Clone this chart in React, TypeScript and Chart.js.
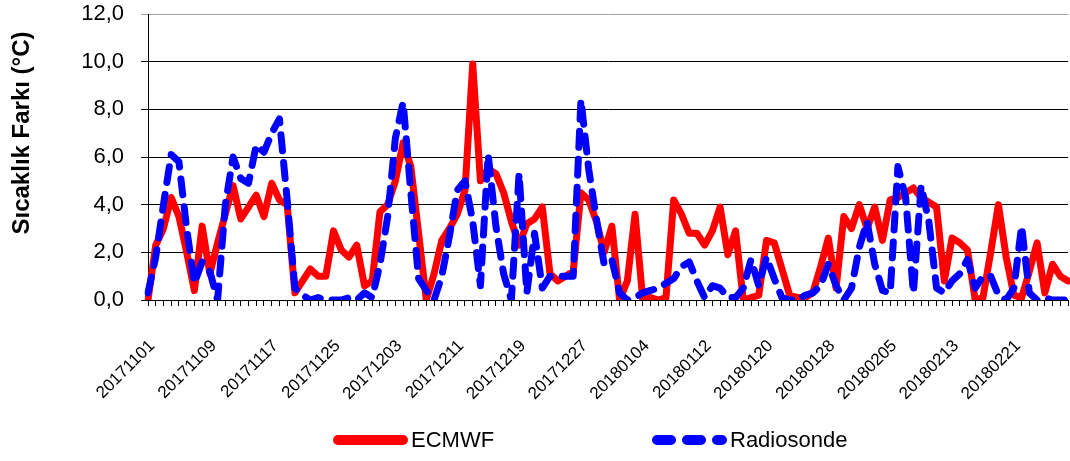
import React, { useEffect, useRef } from "react";
import { Chart, registerables } from "chart.js";

Chart.register(...registerables);

const categories: string[] = [
  "20171101","20171102","20171103","20171104","20171105","20171106","20171107","20171108","20171109","20171110",
  "20171111","20171112","20171113","20171114","20171115","20171116","20171117","20171118","20171119","20171120",
  "20171121","20171122","20171123","20171124","20171125","20171126","20171127","20171128","20171129","20171130",
  "20171201","20171202","20171203","20171204","20171205","20171206","20171207","20171208","20171209","20171210",
  "20171211","20171212","20171213","20171214","20171215","20171216","20171217","20171218","20171219","20171220",
  "20171221","20171222","20171223","20171224","20171225","20171226","20171227","20171228","20171229","20171230",
  "20171231","20180101","20180102","20180103","20180104","20180105","20180106","20180107","20180108","20180109",
  "20180110","20180111","20180112","20180113","20180114","20180115","20180116","20180117","20180118","20180119",
  "20180120","20180121","20180122","20180123","20180124","20180125","20180126","20180127","20180128","20180129",
  "20180130","20180131","20180201","20180202","20180203","20180204","20180205","20180206","20180207","20180208",
  "20180209","20180210","20180211","20180212","20180213","20180214","20180215","20180216","20180217","20180218",
  "20180219","20180220","20180221","20180222","20180223","20180224","20180225","20180226","20180227","20180228",
];

const tickLabels: string[] = [
  "20171101","20171109","20171117","20171125","20171203","20171211","20171219","20171227",
  "20180104","20180112","20180120","20180128","20180205","20180213","20180221",
];

const ecmwf: number[] = [
  0.0, 2.3, 3.0, 4.3, 3.5, 2.0, 0.4, 3.1, 1.1, 2.4,
  3.6, 4.8, 3.4, 3.9, 4.4, 3.5, 4.9, 4.2, 4.0, 0.3,
  0.8, 1.3, 1.0, 1.0, 2.9, 2.1, 1.8, 2.3, 0.6, 0.8,
  3.7, 4.0, 5.0, 6.6, 5.6, 2.8, 0.0, 1.1, 2.5, 3.0,
  3.6, 4.6, 9.9, 5.0, 5.5, 5.3, 4.5, 3.3, 2.3, 3.2,
  3.4, 3.9, 1.1, 0.8, 1.0, 1.2, 4.5, 4.2, 3.3, 2.0,
  3.1, 0.0, 0.8, 3.6, 0.0, 0.1, 0.0, 0.1, 4.2, 3.6,
  2.8, 2.8, 2.3, 2.9, 3.9, 1.9, 2.9, 0.0, 0.1, 0.2,
  2.5, 2.4, 1.3, 0.2, 0.1, 0.1, 0.3, 1.4, 2.6, 0.5,
  3.5, 3.0, 4.0, 3.0, 3.9, 2.5, 4.2, 4.3, 4.5, 4.7,
  4.3, 4.1, 3.9, 0.8, 2.6, 2.4, 2.1, 0.0, 0.1, 2.0,
  4.0, 1.8, 0.2, 0.1, 1.2, 2.4, 0.3, 1.5, 1.0, 0.8,
];

const radiosonde: number[] = [
  0.3, 1.8, 4.0, 6.1, 5.8, 3.0, 0.7, 1.6, 1.2, 0.0,
  4.0, 6.0, 5.1, 4.9, 6.5, 6.2, 7.0, 7.6, 4.2, 0.5,
  0.2, 0.0, 0.1, 0.0, 0.0, 0.0, 0.1, 0.0, 0.3, 0.1,
  1.5, 3.5, 6.8, 8.3, 4.5, 0.9, 0.4, 0.0, 1.0, 2.7,
  4.6, 5.0, 3.3, 0.6, 6.1, 3.1, 1.1, 0.0, 5.3, 0.3,
  2.8, 0.5, 1.0, 1.0, 1.0, 1.0, 8.4, 5.5, 3.4, 1.5,
  1.7, 0.3, 0.0, 0.1, 0.3, 0.4, 0.5, 0.7, 0.9, 1.4,
  1.6, 0.8, 0.1, 0.6, 0.5, 0.1, 0.1, 0.5, 1.7, 0.6,
  1.8, 0.9, 0.1, 0.0, 0.0, 0.2, 0.3, 0.6, 1.5, 0.6,
  0.0, 0.5, 2.2, 3.3, 1.5, 0.4, 0.3, 5.6, 4.3, 0.3,
  4.8, 3.3, 0.5, 0.3, 0.8, 1.1, 1.7, 0.5, 1.0, 1.0,
  0.2, 0.0, 0.5, 3.1, 0.3, 0.0, 0.1, 0.0, 0.0, 0.0,
];

const seriesNames: string[] = ["ECMWF", "Radiosonde"];
const yTitle = "Sıcaklık Farkı (°C)";

const FAMILY = '"Liberation Sans", Arial, Helvetica, sans-serif';
const RED = "#FF0000";
const BLUE = "#0000FF";

const decorPlugin = {
  id: "decor",
  afterDraw(chart: any) {
    const ctx: CanvasRenderingContext2D = chart.ctx;
    // y axis title
    ctx.save();
    ctx.translate(22, 133);
    ctx.rotate(-Math.PI / 2);
    ctx.font = `bold 24px ${FAMILY}`;
    ctx.fillStyle = "#000";
    ctx.textAlign = "center";
    ctx.textBaseline = "middle";
    ctx.fillText(yTitle, 0, 0);
    ctx.restore();

    // legend
    const items = [
      { x: 333, color: RED, dash: [] as number[], text: seriesNames[0] },
      { x: 652, color: BLUE, dash: [14, 16], text: seriesNames[1] },
    ];
    const y = 440;
    items.forEach((it) => {
      ctx.save();
      ctx.strokeStyle = it.color;
      ctx.lineWidth = 10;
      ctx.lineCap = "round";
      ctx.setLineDash(it.dash);
      ctx.beginPath();
      ctx.moveTo(it.x + 5, y);
      ctx.lineTo(it.x + 70, y);
      ctx.stroke();
      ctx.restore();
      ctx.save();
      ctx.font = `22px ${FAMILY}`;
      ctx.fillStyle = "#000";
      ctx.textAlign = "left";
      ctx.textBaseline = "middle";
      ctx.fillText(it.text, it.x + 78, y + 1);
      ctx.restore();
    });
  },
};

export default function App() {
  const ref = useRef<HTMLCanvasElement>(null);

  useEffect(() => {
    if (!ref.current) return;
    const chart = new Chart(ref.current, {
      type: "line",
      data: {
        labels: categories,
        datasets: [
          {
            label: seriesNames[0],
            data: ecmwf,
            borderColor: RED,
            backgroundColor: RED,
            borderWidth: 7,
            pointRadius: 0,
            tension: 0,
            borderJoinStyle: "round",
            borderCapStyle: "round",
            order: 1,
          },
          {
            label: seriesNames[1],
            data: radiosonde,
            borderColor: BLUE,
            backgroundColor: BLUE,
            borderWidth: 7,
            borderDash: [16, 12],
            pointRadius: 0,
            tension: 0,
            borderJoinStyle: "round",
            borderCapStyle: "round",
            order: 0,
          },
        ],
      },
      options: {
        animation: false,
        responsive: true,
        maintainAspectRatio: false,
        layout: { padding: { top: 14, right: 2, bottom: 0, left: 0 } },
        plugins: {
          legend: { display: false },
          tooltip: { enabled: false },
          title: { display: false },
        },
        scales: {
          x: {
            type: "category",
            offset: false,
            grid: {
              display: true,
              drawOnChartArea: false,
              drawTicks: true,
              tickLength: 6,
              color: "#000",
              lineWidth: 1,
            },
            border: { display: true, color: "#000", width: 1 },
            ticks: {
              autoSkip: false,
              maxRotation: 45,
              minRotation: 45,
              padding: 30,
              labelOffset: 4,
              color: "#000",
              font: { size: 17, family: FAMILY },
              callback: (_v: any, index: number) => {
                const l = categories[index];
                return tickLabels.includes(l) ? l : "";
              },
            },
            afterFit: (s: any) => {
              s.height = 161;
              s.paddingLeft = 0;
              s.paddingRight = 0;
            },
          },
          y: {
            min: 0,
            max: 12,
            ticks: {
              stepSize: 2,
              padding: 17,
              color: "#000",
              font: { size: 22, family: FAMILY },
              callback: (v: any) => Number(v).toFixed(1).replace(".", ","),
            },
            grid: {
              color: (c: any) => (c.tick && c.tick.value === 12 ? "#A0A0A0" : "#000"),
              tickLength: 7,
              drawTicks: true,
              lineWidth: 1,
            },
            border: { display: true, color: "#000", width: 1 },
            afterFit: (s: any) => {
              s.width = 148;
              s.paddingTop = 0;
              s.paddingBottom = 0;
            },
          },
        },
      },
      plugins: [decorPlugin],
    });
    return () => chart.destroy();
  }, []);

  return (
    <div
      style={{
        position: "absolute",
        left: 0,
        top: 0,
        width: 1070,
        height: 461,
        background: "#fff",
      }}
    >
      <canvas ref={ref} />
    </div>
  );
}
